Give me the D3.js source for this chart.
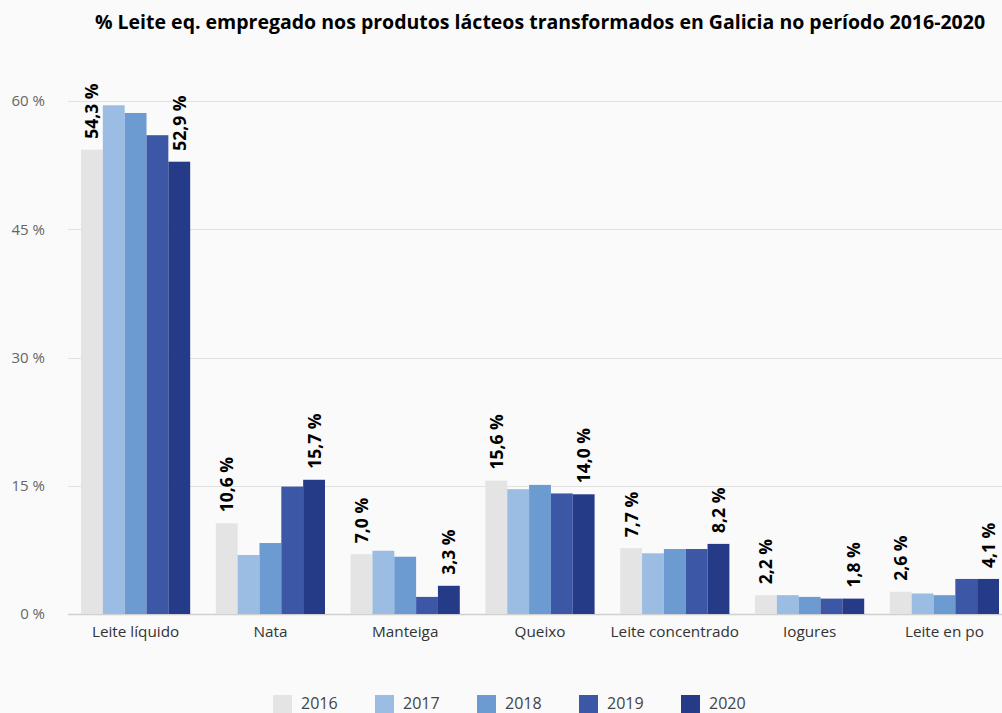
<!DOCTYPE html>
<html>
<head>
<meta charset="utf-8">
<script src="https://cdn.jsdelivr.net/npm/d3@7"></script>
<style>
  body { margin: 0; background: #fafafa; }
  svg { font-family: "Open Sans", sans-serif; display: block; }
</style>
</head>
<body>
<div id="chart"></div>
<script>
const categories = ["Leite líquido", "Nata", "Manteiga", "Queixo", "Leite concentrado", "Iogures", "Leite en po"];
const years = ["2016", "2017", "2018", "2019", "2020"];
const v2016 = [54.3, 10.6, 7.0, 15.6, 7.7, 2.2, 2.6];
const v2017 = [59.5, 6.9, 7.4, 14.6, 7.1, 2.2, 2.4];
const v2018 = [58.6, 8.3, 6.7, 15.1, 7.6, 2.0, 2.2];
const v2019 = [56.0, 14.9, 2.0, 14.1, 7.6, 1.8, 4.1];
const v2020 = [52.9, 15.7, 3.3, 14.0, 8.2, 1.8, 4.1];
const yTicks = [0, 15, 30, 45, 60];
const colors = ["#e3e4e3", "#9bbde4", "#6c9bd2", "#3c57a6", "#263b87"];
const labelledYears = ["2016", "2020"];

const series = [v2016, v2017, v2018, v2019, v2020];
const W = 1002, H = 713;
const margin = { top: 101, right: 0, bottom: 99, left: 68 };

const svg = d3.select("#chart").append("svg")
  .attr("width", W).attr("height", H);

svg.append("rect").attr("width", W).attr("height", H).attr("fill", "#fafafa");

// groups of bars sit a bit inside the grid area
const x0 = d3.scaleBand()
  .domain(categories)
  .range([81, 999])
  .paddingInner(0.19)
  .paddingOuter(0);

const x1 = d3.scaleBand()
  .domain(years)
  .range([0, x0.bandwidth()]);

const y = d3.scaleLinear()
  .domain([0, 60])
  .range([H - margin.bottom, margin.top]);

// grid
svg.append("g")
  .selectAll("line")
  .data(yTicks)
  .join("line")
  .attr("x1", margin.left)
  .attr("x2", W - margin.right)
  .attr("y1", d => Math.round(y(d)) + 0.5)
  .attr("y2", d => Math.round(y(d)) + 0.5)
  .attr("stroke", d => d === 0 ? "#d0d0d0" : "#e1e1e1")
  .attr("stroke-width", d => d === 0 ? 1.5 : 1);

// y axis
const yAxis = d3.axisLeft(y)
  .tickValues(yTicks)
  .tickSize(0)
  .tickPadding(0)
  .tickFormat(d => d + " %");

svg.append("g")
  .attr("transform", `translate(45,0)`)
  .call(yAxis)
  .call(g => g.select(".domain").remove())
  .call(g => g.selectAll("text")
    .attr("fill", "#666")
    .style("font-size", "15px")
    .style("font-family", "Open Sans"));

// x axis
const xAxis = d3.axisBottom(x0).tickSize(0).tickPadding(12);
svg.append("g")
  .attr("transform", `translate(0,${H - margin.bottom})`)
  .call(xAxis)
  .call(g => g.select(".domain").remove())
  .call(g => g.selectAll("text")
    .attr("fill", "#333")
    .style("font-size", "15.3px")
    .style("font-family", "Open Sans"));

// bars
const rows = categories.map((c, i) => ({
  cat: c,
  vals: years.map((yr, j) => ({ year: yr, value: series[j][i], color: colors[j] }))
}));

const groups = svg.append("g")
  .selectAll("g")
  .data(rows)
  .join("g")
  .attr("transform", d => `translate(${x0(d.cat)},0)`);

groups.selectAll("rect")
  .data(d => d.vals)
  .join("rect")
  .attr("x", d => x1(d.year))
  .attr("width", x1.bandwidth())
  .attr("y", d => y(d.value))
  .attr("height", d => y(0) - y(d.value))
  .attr("fill", d => d.color);

groups.selectAll("text")
  .data(d => d.vals.filter(v => labelledYears.includes(v.year)))
  .join("text")
  .attr("transform", d => `translate(${x1(d.year) + x1.bandwidth() / 2 + 6.5},${y(d.value) - 11}) rotate(-90)`)
  .attr("text-anchor", "start")
  .style("font-size", "17.5px")
  .style("font-weight", "bold")
  .style("font-family", "Open Sans")
  .attr("fill", "#000")
  .text(d => d3.format(".1f")(d.value).replace(".", ",") + " %");

// title
svg.append("text")
  .attr("x", 540)
  .attr("y", 29)
  .attr("text-anchor", "middle")
  .style("font-size", "19.5px")
  .style("font-weight", "bold")
  .style("font-family", "Open Sans")
  .attr("fill", "#000")
  .text("% Leite eq. empregado nos produtos lácteos transformados en Galicia no período 2016-2020");

// legend
const legend = svg.append("g")
  .selectAll("g")
  .data(years)
  .join("g")
  .attr("transform", (d, i) => `translate(${273 + i * 102},695)`);

legend.append("rect")
  .attr("width", 19).attr("height", 19)
  .attr("fill", (d, i) => colors[i]);

legend.append("text")
  .attr("x", 28).attr("y", 13.5)
  .style("font-size", "16px")
  .style("font-family", "Open Sans")
  .attr("fill", "#444")
  .text(d => d);
</script>
</body>
</html>
